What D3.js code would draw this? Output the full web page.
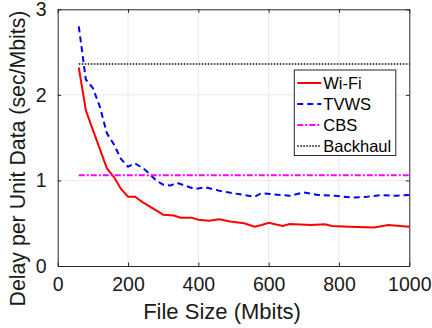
<!DOCTYPE html>
<html lang="en">
<head>
<meta charset="UTF-8">
<title>Delay per unit data</title>
<script src="https://d3js.org/d3.v7.min.js"></script>
<style>
    body { margin: 0; background: #fff; }
    svg { display: block; font-family: 'Liberation Sans', Arial, Helvetica, sans-serif; }
</style>
</head>
<body>
<script>
// values
const wifiX = [60, 80, 100, 140, 160, 180, 200, 220, 240, 260, 280, 300, 330, 350, 380, 400, 430, 460, 490, 530, 560, 580, 600, 640, 660, 720, 760, 780, 830, 900, 940, 1000];
const wifiY = [2.32, 1.82, 1.59, 1.14, 1.04, 0.90, 0.81, 0.81, 0.75, 0.70, 0.65, 0.60, 0.59, 0.565, 0.565, 0.54, 0.53, 0.545, 0.52, 0.50, 0.46, 0.48, 0.505, 0.467, 0.49, 0.48, 0.487, 0.467, 0.46, 0.45, 0.48, 0.46];
const tvwsX = [60, 80, 100, 120, 140, 160, 180, 200, 220, 250, 280, 300, 320, 340, 390, 420, 460, 500, 560, 580, 660, 700, 740, 790, 840, 880, 920, 960, 1000];
const tvwsY = [2.80, 2.18, 2.08, 1.86, 1.55, 1.42, 1.25, 1.16, 1.20, 1.12, 1.00, 0.95, 0.94, 0.97, 0.90, 0.92, 0.88, 0.85, 0.81, 0.85, 0.82, 0.86, 0.83, 0.82, 0.80, 0.81, 0.83, 0.82, 0.83];
const cbsX = [60, 1000];
const cbsY = [1.06, 1.06];
const backhaulX = [60, 1000];
const backhaulY = [2.36, 2.36];

const xTicks = [0, 200, 400, 600, 800, 1000];
const yTicks = [0, 1, 2, 3];
const seriesNames = ["Wi-Fi", "TVWS", "CBS", "Backhaul"];

const W = 432, H = 328;
const margin = { left: 57.7, right: W - 409.3, top: 9.3, bottom: H - 266 };

const x = d3.scaleLinear().domain([0, 1000]).range([margin.left, W - margin.right]);
const y = d3.scaleLinear().domain([0, 3]).range([H - margin.bottom, margin.top]);

const svg = d3.select("body").append("svg")
    .attr("width", W)
    .attr("height", H);

const axisColor = "#262626";
const font = "'Liberation Sans', Arial, Helvetica, sans-serif";

// grid
svg.append("g").selectAll("line")
    .data(xTicks.slice(1, -1))
    .join("line")
    .attr("x1", d => x(d)).attr("x2", d => x(d))
    .attr("y1", y(0)).attr("y2", y(3))
    .attr("stroke", "#e8e8e8").attr("stroke-width", 1);
svg.append("g").selectAll("line")
    .data(yTicks.slice(1, -1))
    .join("line")
    .attr("x1", x(0)).attr("x2", x(1000))
    .attr("y1", d => y(d)).attr("y2", d => y(d))
    .attr("stroke", "#e8e8e8").attr("stroke-width", 1);

const series = [
    { name: seriesNames[0], xs: wifiX, ys: wifiY, color: "#ff0000", width: 2, dash: null },
    { name: seriesNames[1], xs: tvwsX, ys: tvwsY, color: "#0000ff", width: 2, dash: "6,4" },
    { name: seriesNames[2], xs: cbsX, ys: cbsY, color: "#ff00ff", width: 2, dash: "6,2,2,2" },
    { name: seriesNames[3], xs: backhaulX, ys: backhaulY, color: "#000000", width: 1.5, dash: "1.5,1.5" }
];

const line = d3.line().x(d => x(d[0])).y(d => y(d[1]));

svg.append("g").selectAll("path")
    .data(series)
    .join("path")
    .attr("d", s => line(s.xs.map((v, i) => [v, s.ys[i]])))
    .attr("fill", "none")
    .attr("stroke", s => s.color)
    .attr("stroke-width", s => s.width)
    .attr("stroke-dasharray", s => s.dash);

// axes (box with inward ticks on all sides)
const tickLen = 3.5;
const fmt = d3.format("d");
const gx = svg.append("g").attr("transform", `translate(0,${y(0)})`)
    .call(d3.axisBottom(x).tickValues(xTicks).tickFormat(fmt).tickSizeInner(-tickLen).tickSizeOuter(0).tickPadding(11));
const gxTop = svg.append("g").attr("transform", `translate(0,${y(3)})`)
    .call(d3.axisTop(x).tickValues(xTicks).tickSizeInner(-tickLen).tickSizeOuter(0).tickFormat(""));
const gy = svg.append("g").attr("transform", `translate(${x(0)},0)`)
    .call(d3.axisLeft(y).tickValues(yTicks).tickFormat(fmt).tickSizeInner(-tickLen).tickSizeOuter(0).tickPadding(11));
const gyRight = svg.append("g").attr("transform", `translate(${x(1000)},0)`)
    .call(d3.axisRight(y).tickValues(yTicks).tickSizeInner(-tickLen).tickSizeOuter(0).tickFormat(""));

[gx, gxTop, gy, gyRight].forEach(g => {
    g.select(".domain").attr("stroke", axisColor).attr("stroke-width", 1);
    g.selectAll(".tick line").attr("stroke", axisColor);
    g.selectAll(".tick text").attr("fill", "#1a1a1a").style("font-size", "19.5px")
        .style("font-family", font);
});

// axis labels
svg.append("text")
    .attr("x", 222)
    .attr("y", 319)
    .attr("text-anchor", "middle")
    .attr("fill", "#1a1a1a")
    .style("font-size", "22px")
    .text("File Size (Mbits)");

svg.append("text")
    .attr("transform", "translate(25,158.5) rotate(-90)")
    .attr("text-anchor", "middle")
    .attr("fill", "#1a1a1a")
    .style("font-size", "21.3px")
    .text("Delay per Unit Data (sec/Mbits)");

// legend
const lg = svg.append("g").attr("transform", "translate(294.3,70)");
lg.append("rect")
    .attr("width", 101.5).attr("height", 85.5)
    .attr("fill", "#fff").attr("stroke", axisColor).attr("stroke-width", 1);
const item = lg.selectAll("g.item")
    .data(series)
    .join("g")
    .attr("class", "item")
    .attr("transform", (d, i) => `translate(0,${13 + i * 21})`);
item.append("line")
    .attr("x1", 3).attr("x2", 27)
    .attr("stroke", d => d.color)
    .attr("stroke-width", d => d.width)
    .attr("stroke-dasharray", d => d.dash);
item.append("text")
    .attr("x", 29)
    .attr("dy", "0.36em")
    .attr("fill", "#000")
    .style("font-size", "16.5px")
    .style("font-family", font)
    .text(d => d.name);
</script>
</body>
</html>
